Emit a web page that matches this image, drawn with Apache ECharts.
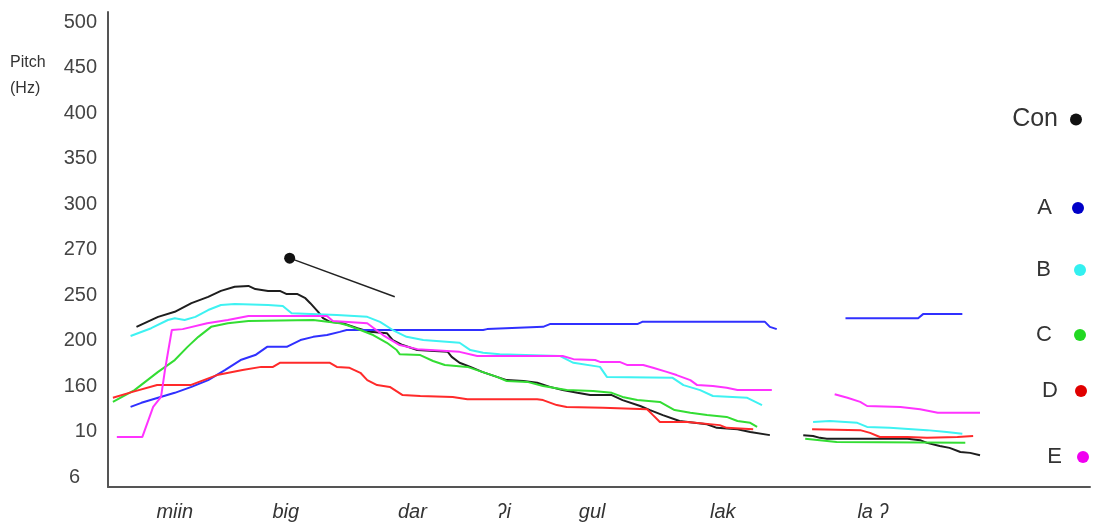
<!DOCTYPE html>
<html><head><meta charset="utf-8">
<script src="https://cdn.jsdelivr.net/npm/echarts@6/dist/echarts.min.js"></script>
<style>html,body{margin:0;padding:0;background:#fff}#c{width:1096px;height:525px}</style>
</head><body><div id="c"></div>
<script>
// y axis: evenly spaced pitch ticks (level index 0..10)
const yTickLabels = ['6','10','160','200','250','270','300','350','400','450','500'];
// x axis: syllables (time in % of utterance)
const syllables = ['miin','big','dar','ʔi','gul','lak','la ʔ'];
const syllableTimes = [6.8, 18.1, 31.0, 40.3, 49.3, 62.6, 77.9];
const seriesNames = ['Con','A','B','C','D','E'];

// [time %, pitch level]; '-' marks the pause gap
const dataCon = [[2.9,3.30],[5.1,3.52],[6.8,3.63],[8.5,3.82],[10.2,3.96],[11.5,4.09],[12.9,4.18],[14.3,4.20],[15.0,4.13],[16.3,4.09],[17.5,4.09],[18.2,4.02],[19.3,4.02],[20.1,3.93],[20.6,3.82],[21.4,3.63],[21.9,3.49],[22.6,3.41],[23.9,3.38],[25.4,3.27],[26.7,3.19],[28.4,3.16],[29.0,3.01],[30.0,2.90],[31.5,2.79],[34.6,2.75],[35.0,2.64],[35.8,2.51],[36.9,2.42],[38.1,2.31],[39.6,2.20],[40.6,2.13],[42.3,2.11],[43.7,2.07],[45.0,1.98],[46.3,1.91],[47.8,1.85],[49.1,1.80],[51.3,1.80],[52.4,1.69],[54.2,1.56],[55.2,1.47],[56.5,1.36],[58.2,1.23],[61.0,1.16],[62.0,1.08],[64.1,1.05],[65.4,0.99],[67.4,0.92],
  [69,'-'],
  [70.8,0.92],[71.8,0.90],[72.5,0.86],[73.2,0.84],[81.4,0.84],[82.7,0.81],[83.4,0.75],[84.7,0.68],[85.7,0.64],[86.8,0.55],[87.8,0.53],[88.8,0.48]];
const dataA = [[2.3,1.54],[3.4,1.63],[5.1,1.74],[6.8,1.85],[8.5,1.98],[10.2,2.13],[11.9,2.35],[13.5,2.57],[15.0,2.68],[16.2,2.86],[18.2,2.86],[19.6,3.01],[20.9,3.08],[22.3,3.12],[23.6,3.19],[24.3,3.23],[38.2,3.23],[38.6,3.25],[44.3,3.30],[45.0,3.36],[53.9,3.36],[54.4,3.41],[66.9,3.41],[67.4,3.30],[68.1,3.25],
  [71,'-'],
  [75.1,3.49],[82.5,3.49],[83.0,3.58],[87.0,3.58]];
const dataB = [[2.3,3.10],[4.4,3.27],[6.1,3.45],[6.8,3.49],[7.8,3.45],[8.9,3.52],[10.2,3.67],[11.5,3.78],[12.9,3.80],[16.3,3.78],[17.8,3.76],[18.7,3.60],[23.3,3.56],[26.4,3.52],[27.7,3.41],[29.0,3.23],[30.4,3.08],[32.1,3.01],[35.8,2.95],[36.9,2.79],[38.2,2.73],[39.9,2.70],[46.0,2.66],[47.4,2.51],[50.1,2.42],[50.8,2.20],[57.5,2.18],[58.6,2.02],[60.3,1.91],[61.6,1.78],[65.1,1.74],[66.6,1.58],
  [69,'-'],
  [71.8,1.21],[73.5,1.23],[76.3,1.19],[77.3,1.10],[79.6,1.08],[83.4,1.03],[85.4,0.99],[87.0,0.95]];
const dataC = [[0.5,1.65],[2.7,1.91],[5.1,2.31],[6.8,2.57],[8.1,2.86],[9.2,3.08],[10.5,3.30],[12.2,3.38],[14.3,3.43],[20.9,3.45],[23.6,3.38],[24.3,3.34],[25.7,3.23],[27.0,3.12],[28.4,2.95],[29.4,2.79],[29.7,2.70],[31.8,2.68],[33.1,2.55],[34.3,2.46],[36.6,2.42],[38.1,2.31],[39.6,2.20],[40.6,2.11],[42.7,2.09],[44.3,2.00],[46.7,1.91],[49.4,1.89],[51.3,1.85],[52.4,1.76],[53.9,1.69],[56.2,1.65],[57.7,1.47],[59.3,1.41],[61.0,1.36],[63.0,1.32],[64.1,1.23],[65.4,1.19],[66.1,1.10],
  [69,'-'],
  [71.0,0.84],[74.2,0.77],[87.3,0.75]];
const dataD = [[0.5,1.74],[2.5,1.87],[5.0,2.02],[8.4,2.02],[11.1,2.24],[13.7,2.35],[15.6,2.42],[16.8,2.42],[17.5,2.51],[22.6,2.51],[23.3,2.42],[24.6,2.40],[25.7,2.29],[26.4,2.13],[27.4,2.02],[28.7,1.98],[30.0,1.80],[31.8,1.78],[35.1,1.76],[36.6,1.71],[43.7,1.71],[44.3,1.69],[45.7,1.58],[46.7,1.54],[50.4,1.52],[54.9,1.49],[55.5,1.36],[56.2,1.21],[59.0,1.21],[62.3,1.14],[63.0,1.08],[65.7,1.05],
  [69,'-'],
  [71.7,1.05],[76.6,1.03],[77.6,0.97],[78.6,0.88],[81.4,0.88],[83.4,0.86],[86.5,0.88],[88.1,0.90]];
const dataE = [[0.9,0.88],[3.5,0.88],[4.6,1.54],[5.4,1.76],[5.8,2.35],[6.1,2.73],[6.5,3.23],[7.6,3.25],[10.1,3.38],[12.2,3.45],[14.3,3.54],[22.3,3.54],[22.9,3.43],[26.4,3.38],[28.0,3.12],[29.7,2.90],[31.5,2.81],[35.8,2.75],[37.6,2.66],[46.3,2.66],[47.4,2.59],[49.6,2.57],[50.1,2.53],[52.1,2.53],[52.9,2.46],[54.5,2.46],[55.5,2.40],[56.9,2.31],[57.9,2.24],[59.3,2.13],[60.0,2.02],[61.6,2.00],[63.0,1.96],[64.1,1.91],[67.6,1.91],
  [71,'-'],
  [74.0,1.82],[75.3,1.74],[76.6,1.65],[77.3,1.56],[80.7,1.54],[82.7,1.49],[84.5,1.41],[88.8,1.41]];
// annotation pointer
const dataPointer = [[18.5,4.81],[29.2,3.96]];

const lineColors = {Con:'#1e1e1e', A:'#3030ff', B:'#3ef2f2', C:'#33dd33', D:'#ff2a2a', E:'#ff33ff'};
const dotColors = {Con:'#111111', A:'#0000c8', B:'#33f0f0', C:'#22d822', D:'#e00000', E:'#f000f0'};
const seriesData = {Con:dataCon, A:dataA, B:dataB, C:dataC, D:dataD, E:dataE};

const legendCenters = {Con:118, A:208, B:270, C:335, D:391, E:457};
const legendRight = {Con:14, A:12, B:10, C:10, D:9, E:7};
const legendGap = {Con:7, A:15, B:18, C:17, D:12, E:10};

const chart = echarts.init(document.getElementById('c'));
const FONT = '"Liberation Sans", Arial, sans-serif';

const series = seriesNames.map(n => ({
  name: n, type: 'line', data: seriesData[n], showSymbol: false, symbol: 'circle',
  connectNulls: false, animation: false,
  itemStyle: {color: dotColors[n]},
  lineStyle: {color: lineColors[n], width: 2}
}));
series.push({
  name: 'pointer', type: 'line', animation: false, silent: true,
  data: [{value: dataPointer[0], symbol: 'circle', symbolSize: 11}, {value: dataPointer[1], symbol: 'none'}],
  itemStyle: {color: '#111'}, lineStyle: {color: '#222', width: 1.5}
});

const legends = seriesNames.map(n => ({
  data: [n], orient: 'horizontal', align: 'right', right: legendRight[n],
  top: legendCenters[n] - 11, padding: 0, selectedMode: false,
  icon: 'circle', itemWidth: 12, itemHeight: 12,
  textStyle: {fontFamily: FONT, fontSize: n === 'Con' ? 25 : 22, color: '#333', lineHeight: 22, padding: [0, legendGap[n], 0, 0]}
}));

chart.setOption({
  backgroundColor: '#fff',
  animation: false,
  grid: {left: 108, right: 6, top: 12, bottom: 38, containLabel: false},
  legend: legends,
  graphic: [{type: 'text', left: 10, top: 50, style: {text: 'Pitch\n(Hz)', font: '16px ' + FONT, fill: '#333', lineHeight: 26}}],
  xAxis: {
    type: 'value', min: 0, max: 100, splitLine: {show: false},
    axisLine: {show: true, onZero: false, lineStyle: {color: '#555', width: 2}},
    axisTick: {show: false},
    axisLabel: {
      customValues: syllableTimes, margin: 15,
      fontFamily: FONT, fontSize: 20, fontStyle: 'italic', color: '#333',
      formatter: v => { let i = syllableTimes.findIndex(t => Math.abs(t - v) < 0.01); return i >= 0 ? syllables[i] : ''; }
    }
  },
  yAxis: {
    type: 'value', min: -0.22, max: 10.22, splitLine: {show: false},
    axisLine: {show: true, onZero: false, lineStyle: {color: '#555', width: 2}},
    axisTick: {show: false},
    axisLabel: {
      customValues: [0,1,2,3,4,5,6,7,8,9,10], margin: 11,
      fontFamily: FONT, fontSize: 20, color: '#444',
      formatter: v => { const i = Math.round(v); return i === 0 ? '{p|6}' : yTickLabels[i]; },
      rich: {p: {fontFamily: FONT, fontSize: 20, color: '#444', padding: [0, 17, 0, 0]}}
    }
  },
  series: series
});
</script></body></html>
